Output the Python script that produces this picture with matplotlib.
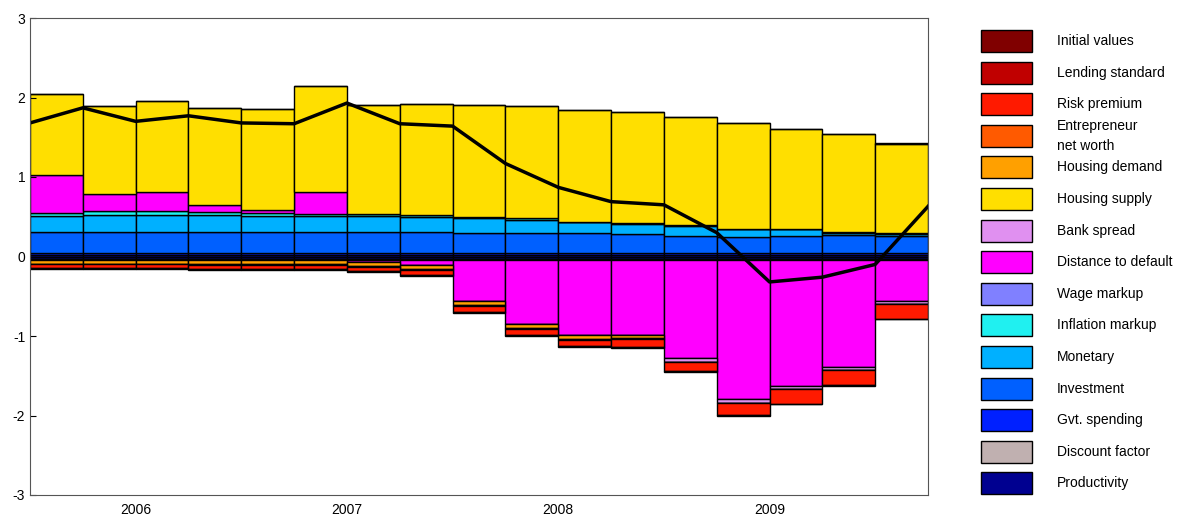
import numpy as np
import matplotlib.pyplot as plt
from matplotlib.patches import Rectangle

plt.rcParams['font.family'] = ['Liberation Sans', 'DejaVu Sans']
plt.rcParams['axes.unicode_minus'] = False

# shock decomposition, 17 quarters (2005Q3 .. 2009Q3)
names = ['Initial values', 'Lending standard', 'Risk premium', 'Entrepreneur\nnet worth',
         'Housing demand', 'Housing supply', 'Bank spread', 'Distance to default',
         'Wage markup', 'Inflation markup', 'Monetary', 'Investment', 'Gvt. spending',
         'Discount factor', 'Productivity']
colors = ['#800000', '#c00000', '#ff1a00', '#ff5a00', '#ffa000', '#ffdf00', '#e090f0',
          '#ff00ff', '#8080ff', '#20f0f0', '#00b0ff', '#0060ff', '#0020ff', '#c0b0b0', '#000090']

n = 17
z = [0.0] * n
vals = {
    'Initial values': z,
    'Lending standard': [-0.01] * n,
    'Risk premium': [-0.05, -0.05, -0.05, -0.05, -0.05, -0.05, -0.05, -0.06, -0.08, -0.08,
                     -0.08, -0.10, -0.11, -0.15, -0.18, -0.19, -0.18],
    'Entrepreneur\nnet worth': [-0.01] * 12 + [0.0] * 4 + [0.02],
    'Housing demand': [-0.04, -0.04, -0.04, -0.05, -0.05, -0.05, -0.05, -0.05, -0.05, -0.05,
                       -0.05, -0.04, 0.0, 0.0, 0.0, 0.0, 0.0],
    'Housing supply': [1.03, 1.10, 1.15, 1.22, 1.28, 1.33, 1.37, 1.40, 1.41, 1.41,
                       1.40, 1.40, 1.37, 1.33, 1.26, 1.23, 1.12],
    'Bank spread': [0.0] * 12 + [-0.05, -0.05, -0.04, -0.04, -0.04],
    'Distance to default': [0.47, 0.22, 0.24, 0.09, 0.03, 0.27, -0.02, -0.06, -0.52, -0.81,
                            -0.95, -0.95, -1.24, -1.75, -1.59, -1.35, -0.52],
    'Wage markup': z,
    'Inflation markup': [0.04, 0.05, 0.05, 0.04, 0.04, 0.03, 0.03, 0.02, 0.02, 0.02,
                         0.01, 0.01, 0.01, 0.01, 0.01, 0.01, 0.01],
    'Monetary': [0.20, 0.21, 0.21, 0.21, 0.20, 0.20, 0.20, 0.19, 0.18, 0.16,
                 0.14, 0.13, 0.12, 0.09, 0.08, 0.03, 0.02],
    'Investment': [0.26, 0.26, 0.26, 0.26, 0.26, 0.26, 0.26, 0.26, 0.25, 0.25,
                   0.24, 0.23, 0.21, 0.20, 0.21, 0.22, 0.21],
    'Gvt. spending': [0.03] * n,
    'Discount factor': [-0.02] * 8 + [-0.01] * 9,
    'Productivity': [0.02] * 17,
}
prod_neg = -0.03
line = [1.68, 1.87, 1.70, 1.77, 1.68, 1.67, 1.93, 1.67, 1.64, 1.17, 0.87, 0.69,
        0.65, 0.30, -0.32, -0.26, -0.10, 0.63]

fig = plt.figure(figsize=(11.85, 5.21), dpi=100)
ax = fig.add_axes([30 / 1185, 1 - 495 / 521, 898 / 1185, 477 / 521])

x = np.arange(n) + 0.5
pos = np.zeros(n)
neg = np.full(n, prod_neg)
# productivity negative part first
ax.bar(x, [prod_neg] * n, width=1, color=colors[-1], edgecolor='black', linewidth=1)
for name, c in zip(names[::-1], colors[::-1]):
    v = np.array(vals[name])
    vp = np.where(v > 0, v, 0)
    vn = np.where(v < 0, v, 0)
    if vp.any():
        ax.bar(x, vp, bottom=pos, width=1, color=c, edgecolor='black', linewidth=1)
    if vn.any():
        ax.bar(x, vn, bottom=neg, width=1, color=c, edgecolor='black', linewidth=1)
    pos += vp
    neg += vn

ax.plot(np.arange(n + 1), line, color='black', linewidth=2.5)
ax.set_xlim(0, n)
ax.set_ylim(-3, 3)
ax.set_yticks(range(-3, 4))
ax.set_xticks([2, 6, 10, 14])
ax.set_xticklabels(['2006', '2007', '2008', '2009'])
ax.tick_params(direction='in', labelsize=10, length=4)
ax.tick_params(axis='x', length=0, pad=6)
for s in ax.spines.values():
    s.set_color('#555555')

# legend drawn by hand
lg = fig.add_axes([0, 0, 1, 1])
lg.set_xlim(0, 1185)
lg.set_ylim(521, 0)
lg.axis('off')
for i, (name, c) in enumerate(zip(names, colors)):
    yc = 41 + i * 31.6
    lg.add_patch(Rectangle((981, yc - 11), 51, 22, facecolor=c, edgecolor='black', linewidth=1))
    lg.text(1057, yc, name, va='center', ha='left', fontsize=10, linespacing=1.55)

fig.savefig('out.png')
